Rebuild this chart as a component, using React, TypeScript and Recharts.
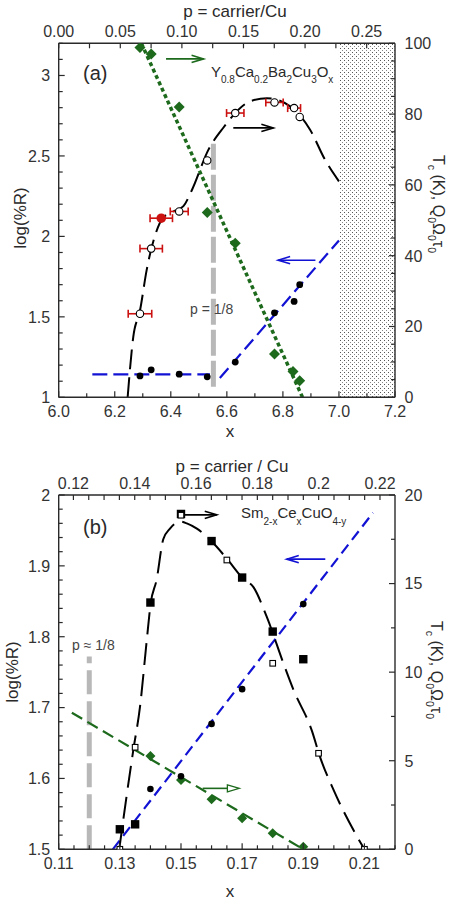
import React from "react";
import {
  ComposedChart,
  ErrorBar,
  Line,
  ReferenceArea,
  ReferenceLine,
  Scatter,
  XAxis,
  YAxis,
} from "recharts";

const FONT = '"Liberation Sans", Arial, Helvetica, sans-serif';
const GREEN = "#1d6a1d";
const BLUE = "#1212d4";
const RED = "#cc1111";
const GRAY = "#b8b8b8";
const INK = "#2a2a2a";

// ---------- panel (a): Y0.8Ca0.2Ba2Cu3Ox ----------
const aDotX = [6.29, 6.33, 6.43, 6.53, 6.63, 6.77, 6.84, 6.86];
const aDotLogR = [1.133, 1.171, 1.144, 1.127, 1.219, 1.525, 1.596, 1.7];

const aTcX = [6.29, 6.33, 6.43, 6.53, 6.63, 6.77, 6.84, 6.86];
const aTc = [23.6, 42.0, 52.5, 66.9, 80.3, 83.3, 81.7, 79.2];
const aTcErr = [0.042, 0.04, 0.032, 0, 0.031, 0.031, 0.023, 0];

const aTcRedX = [6.366];
const aTcRed = [50.6];
const aTcRedErr = [0.04];

const aQX = [6.29, 6.33, 6.43, 6.53, 6.63, 6.77, 6.836, 6.86];
const aQ = [98.8, 97.0, 82.0, 52.2, 43.5, 12.2, 7.3, 4.7];

const aTcFitX = [6.246, 6.266, 6.29, 6.314, 6.345, 6.37, 6.41, 6.445, 6.475, 6.534, 6.586, 6.683, 6.743, 6.826, 6.897, 6.951, 7.0];
const aTcFit = [0, 17, 24.5, 36, 46, 50.5, 52.5, 54, 58.5, 69.9, 76, 83.6, 84.5, 82.2, 75.6, 67, 61];

const aQFitX = [6.295, 6.87];
const aQFit = [100, 0];

const aBlueFlatX = [6.12, 6.54];
const aBlueFlat = [1.143, 1.143];
const aBlueRiseX = [6.575, 7.0];
const aBlueRise = [1.12, 1.975];

const aEighthX = 6.552;
const aEighthY = [1.066, 2.59];

// arrows: [x tail, x head, y]
const aArrowGreen = [6.383, 6.517, 95.6];
const aArrowBlack = [6.623, 6.766, 76.1];
const aArrowBlue = [6.916, 6.783, 1.852];

// ---------- panel (b): Sm2-xCexCuO4-y ----------
const bSqX = [0.13, 0.135, 0.14, 0.15, 0.16, 0.17, 0.18, 0.19];
const bSqTc = [1.13, 1.41, 13.93, 18.93, 17.4, 15.34, 12.29, 10.73];

const bOpenX = [0.13, 0.135, 0.15, 0.165, 0.18, 0.195, 0.21];
const bOpenTc = [0, 5.76, 18.86, 16.33, 10.5, 5.42, 0];

const bDotX = [0.14, 0.15, 0.16, 0.17, 0.19];
const bDotLogR = [1.585, 1.603, 1.677, 1.726, 1.846];

const bQX = [0.14, 0.15, 0.16, 0.17, 0.18, 0.19];
const bQ = [5.27, 3.91, 2.82, 1.75, 0.9, 0.15];

const bTcFitX = [0.1298, 0.1322, 0.1344, 0.1366, 0.1388, 0.1401, 0.142, 0.1442, 0.1464, 0.1497, 0.1519, 0.1552, 0.1599, 0.1655, 0.1702, 0.1737, 0.1781, 0.1835, 0.1868, 0.1928, 0.1955, 0.1999, 0.207, 0.21];
const bTcFit = [0, 3, 5.6, 8.05, 11.8, 13.9, 15.2, 17.5, 18.1, 18.5, 18.4, 18.1, 17.4, 16.3, 15.3, 14.8, 13.1, 10.5, 9.0, 6.7, 5.2, 3.35, 0.9, 0];

const bBlueFitX = [0.1277, 0.2128];
const bBlueFit = [1.5, 1.975];

const bQFitX = [0.1143, 0.19];
const bQFit = [7.71, 0];

const bEighthX = 0.12;
const bEighthY = [1.5, 1.772];

const bArrowBlack = [0.1501, 0.1617, 18.88];
const bArrowBlue = [0.1972, 0.1846, 1.9095];
const bArrowGreen = [0.1571, 0.1691, 3.44];

// ---------- axes ----------
const aBottomMajor = [6.0, 6.2, 6.4, 6.6, 6.8, 7.0, 7.2];
const aTopMajor = [0, 0.05, 0.1, 0.15, 0.2, 0.25];
const aLeftMajor = [1, 1.5, 2, 2.5, 3];
const aRightMajor = [0, 20, 40, 60, 80, 100];

const bBottomMajor = [0.11, 0.13, 0.15, 0.17, 0.19, 0.21];
const bTopMajor = [0.12, 0.14, 0.16, 0.18, 0.2, 0.22];
const bLeftMajor = [1.5, 1.6, 1.7, 1.8, 1.9, 2];
const bRightMajor = [0, 5, 10, 15, 20];

const steps = (start: number, end: number, step: number) =>
  Array.from({ length: Math.round((end - start) / step) + 1 }, (_, i) => +(start + i * step).toFixed(6));

const pts = (xs: number[], ys: number[], es?: number[]) =>
  xs.map((x, i) => ({ x, y: ys[i], ex: es ? es[i] : 0 }));

// invisible anchors so the top (p) axis has something bound to it
const anchors = (xs: number[], y: number) => xs.map((x) => ({ x, y }));

type Side = "bottom" | "top" | "left" | "right";

function makeTick(side: Side, majors: number[], fmt: (v: number) => string, majorLen = 6, minorLen = 4) {
  return (props: any) => {
    const { x, y, payload } = props;
    const v = payload.value;
    const isMajor = majors.some((m) => Math.abs(m - v) < 1e-7);
    const len = isMajor ? majorLen : minorLen;
    const ls = { stroke: INK, strokeWidth: 1.2 };
    const ts = { fontFamily: FONT, fontSize: 16, fill: "#333" };
    if (side === "bottom")
      return (
        <g>
          <line x1={x} y1={y} x2={x} y2={y - len} {...ls} />
          {isMajor && <text x={x} y={y + 19.5} textAnchor="middle" {...ts}>{fmt(v)}</text>}
        </g>
      );
    if (side === "top")
      return (
        <g>
          <line x1={x} y1={y} x2={x} y2={y + len} {...ls} />
          {isMajor && <text x={x} y={y - 6.5} textAnchor="middle" {...ts}>{fmt(v)}</text>}
        </g>
      );
    if (side === "left")
      return (
        <g>
          <line x1={x} y1={y} x2={x + len} y2={y} {...ls} />
          {isMajor && <text x={x - 8.5} y={y + 5.8} textAnchor="end" {...ts}>{fmt(v)}</text>}
        </g>
      );
    return (
      <g>
        <line x1={x} y1={y} x2={x - len} y2={y} {...ls} />
        {isMajor && <text x={x + 9.5} y={y + 5.8} textAnchor="start" {...ts}>{fmt(v)}</text>}
      </g>
    );
  };
}

const circle = (r: number, fill: string, stroke: string, sw: number) => (p: any) =>
  <circle cx={p.cx} cy={p.cy} r={r} fill={fill} stroke={stroke} strokeWidth={sw} />;

const diamond = (s: number, fill: string) => (p: any) =>
  <polygon points={`${p.cx},${p.cy - s} ${p.cx + s},${p.cy} ${p.cx},${p.cy + s} ${p.cx - s},${p.cy}`} fill={fill} />;

const square = (s: number, fill: string, stroke: string, sw: number) => (p: any) =>
  <rect x={p.cx - s} y={p.cy - s} width={2 * s} height={2 * s} fill={fill} stroke={stroke} strokeWidth={sw} />;

const nothing = () => <g />;

function arrow(color: string, hollow = false) {
  return (props: any) => {
    const { x1, y1, x2, y2 } = props;
    const dir = Math.sign(x2 - x1) || 1;
    const hl = 12;
    const hw = 3.6;
    return (
      <g>
        <line x1={x1} y1={y1} x2={hollow ? x2 - dir * hl : x2} y2={y2} stroke={color} strokeWidth={1.6} />
        {hollow ? (
          <polygon
            points={`${x2},${y2} ${x2 - dir * hl},${y2 - hw} ${x2 - dir * hl},${y2 + hw}`}
            fill="none"
            stroke={color}
            strokeWidth={1.3}
          />
        ) : (
          <polyline
            points={`${x2 - dir * hl},${y2 - hw} ${x2},${y2} ${x2 - dir * hl},${y2 + hw}`}
            fill="none"
            stroke={color}
            strokeWidth={1.6}
          />
        )}
      </g>
    );
  };
}

const axisLine = { stroke: INK, strokeWidth: 1.4 };

function PanelA() {
  return (
    <ComposedChart width={450} height={450} margin={{ top: 13.3, right: 5, bottom: 22.7, left: 8.7 }}>
      <XAxis
        xAxisId="x"
        dataKey="x"
        type="number"
        domain={[6.0, 7.2]}
        allowDataOverflow
        ticks={steps(6.0, 7.2, 0.1)}
        interval={0}
        tickSize={0}
        tickMargin={0}
        tickLine={false}
        axisLine={axisLine}
        height={30}
        tick={makeTick("bottom", aBottomMajor, (v) => v.toFixed(1))}
      />
      <XAxis
        xAxisId="p"
        dataKey="x"
        orientation="top"
        type="number"
        domain={[0, 0.273]}
        allowDataOverflow
        ticks={steps(0, 0.25, 0.025)}
        interval={0}
        tickSize={0}
        tickMargin={0}
        tickLine={false}
        axisLine={axisLine}
        height={30}
        tick={makeTick("top", aTopMajor, (v) => v.toFixed(2), 5, 5)}
      />
      <YAxis
        yAxisId="L"
        dataKey="y"
        type="number"
        domain={[1, 3.2]}
        allowDataOverflow
        ticks={steps(1, 3.2, 0.1)}
        interval={0}
        tickSize={0}
        tickMargin={0}
        tickLine={false}
        axisLine={axisLine}
        width={50}
        tick={makeTick("left", aLeftMajor, (v) => String(v))}
      />
      <YAxis
        yAxisId="R"
        orientation="right"
        dataKey="y"
        type="number"
        domain={[0, 100]}
        allowDataOverflow
        ticks={steps(0, 100, 5)}
        interval={0}
        tickSize={0}
        tickMargin={0}
        tickLine={false}
        axisLine={axisLine}
        width={50}
        tick={makeTick("right", aRightMajor, (v) => String(v))}
      />

      <ReferenceArea
        xAxisId="x"
        yAxisId="L"
        x1={7.0}
        x2={7.2}
        y1={1}
        y2={3.2}
        fill="url(#stipple)"
        fillOpacity={1}
        strokeOpacity={0}
      />
      <ReferenceLine
        xAxisId="x"
        yAxisId="L"
        segment={[
          { x: aEighthX, y: aEighthY[0] },
          { x: aEighthX, y: aEighthY[1] },
        ]}
        stroke={GRAY}
        strokeWidth={5}
        strokeDasharray="26 5"
      />

      <Scatter xAxisId="p" yAxisId="L" data={anchors(aTopMajor, 2)} dataKey="y" shape={nothing} isAnimationActive={false} />

      <Line xAxisId="x" yAxisId="R" data={pts(aQFitX, aQFit)} dataKey="y" type="linear" stroke={GREEN} strokeWidth={3.5} strokeDasharray="4 3" dot={false} activeDot={false} isAnimationActive={false} />
      <Line xAxisId="x" yAxisId="L" data={pts(aBlueFlatX, aBlueFlat)} dataKey="y" type="linear" stroke={BLUE} strokeWidth={2.2} strokeDasharray="15 6" dot={false} activeDot={false} isAnimationActive={false} />
      <Line xAxisId="x" yAxisId="L" data={pts(aBlueRiseX, aBlueRise)} dataKey="y" type="linear" stroke={BLUE} strokeWidth={2.2} strokeDasharray="13 6" dot={false} activeDot={false} isAnimationActive={false} />
      <Line xAxisId="x" yAxisId="R" data={pts(aTcFitX, aTcFit)} dataKey="y" type="monotone" stroke="#000" strokeWidth={2} strokeDasharray="20 8" dot={false} activeDot={false} isAnimationActive={false} />

      <Scatter xAxisId="x" yAxisId="R" data={pts(aQX, aQ)} dataKey="y" shape={diamond(5.5, GREEN)} isAnimationActive={false} />
      <Scatter xAxisId="x" yAxisId="L" data={pts(aDotX, aDotLogR)} dataKey="y" shape={circle(3.4, "#000", "#000", 0)} isAnimationActive={false} />
      <Scatter xAxisId="x" yAxisId="R" data={pts(aTcX, aTc, aTcErr)} dataKey="y" shape={circle(3.7, "#fff", "#000", 1.1)} isAnimationActive={false}>
        <ErrorBar dataKey="ex" direction="x" width={4} stroke={RED} strokeWidth={1.6} />
      </Scatter>
      <Scatter xAxisId="x" yAxisId="R" data={pts(aTcRedX, aTcRed, aTcRedErr)} dataKey="y" shape={circle(4.8, RED, RED, 0)} isAnimationActive={false}>
        <ErrorBar dataKey="ex" direction="x" width={4} stroke={RED} strokeWidth={1.6} />
      </Scatter>

      <ReferenceLine xAxisId="x" yAxisId="R" segment={[{ x: aArrowGreen[0], y: aArrowGreen[2] }, { x: aArrowGreen[1], y: aArrowGreen[2] }]} shape={arrow(GREEN)} />
      <ReferenceLine xAxisId="x" yAxisId="R" segment={[{ x: aArrowBlack[0], y: aArrowBlack[2] }, { x: aArrowBlack[1], y: aArrowBlack[2] }]} shape={arrow("#000")} />
      <ReferenceLine xAxisId="x" yAxisId="L" segment={[{ x: aArrowBlue[0], y: aArrowBlue[2] }, { x: aArrowBlue[1], y: aArrowBlue[2] }]} shape={arrow(BLUE)} />
    </ComposedChart>
  );
}

function PanelB() {
  return (
    <ComposedChart width={450} height={454} margin={{ top: 15, right: 5, bottom: 24.7, left: 8.7 }}>
      <XAxis
        xAxisId="x"
        dataKey="x"
        type="number"
        domain={[0.11, 0.22]}
        allowDataOverflow
        ticks={steps(0.11, 0.22, 0.005)}
        interval={0}
        tickSize={0}
        tickMargin={0}
        tickLine={false}
        axisLine={axisLine}
        height={30}
        tick={makeTick("bottom", bBottomMajor, (v) => v.toFixed(2))}
      />
      <XAxis
        xAxisId="p"
        dataKey="x"
        orientation="top"
        type="number"
        domain={[0.1152, 0.2249]}
        allowDataOverflow
        ticks={steps(0.12, 0.22, 0.005)}
        interval={0}
        tickSize={0}
        tickMargin={0}
        tickLine={false}
        axisLine={axisLine}
        height={30}
        tick={makeTick("top", bTopMajor, (v) => String(v), 5, 5)}
      />
      <YAxis
        yAxisId="L"
        dataKey="y"
        type="number"
        domain={[1.5, 2]}
        allowDataOverflow
        ticks={steps(1.5, 2, 0.02)}
        interval={0}
        tickSize={0}
        tickMargin={0}
        tickLine={false}
        axisLine={axisLine}
        width={50}
        tick={makeTick("left", bLeftMajor, (v) => String(v))}
      />
      <YAxis
        yAxisId="R"
        orientation="right"
        dataKey="y"
        type="number"
        domain={[0, 20]}
        allowDataOverflow
        ticks={steps(0, 20, 2.5)}
        interval={0}
        tickSize={0}
        tickMargin={0}
        tickLine={false}
        axisLine={axisLine}
        width={50}
        tick={makeTick("right", bRightMajor, (v) => String(v))}
      />

      <ReferenceLine
        xAxisId="x"
        yAxisId="L"
        segment={[
          { x: bEighthX, y: bEighthY[0] },
          { x: bEighthX, y: bEighthY[1] },
        ]}
        stroke={GRAY}
        strokeWidth={5}
        strokeDasharray="24 7"
      />

      <Scatter xAxisId="p" yAxisId="L" data={anchors(bTopMajor, 1.7)} dataKey="y" shape={nothing} isAnimationActive={false} />

      <Line xAxisId="x" yAxisId="R" data={pts(bQFitX, bQFit)} dataKey="y" type="linear" stroke={GREEN} strokeWidth={2.2} strokeDasharray="12 6" dot={false} activeDot={false} isAnimationActive={false} />
      <Line xAxisId="x" yAxisId="L" data={pts(bBlueFitX, bBlueFit)} dataKey="y" type="linear" stroke={BLUE} strokeWidth={2.2} strokeDasharray="11 6" dot={false} activeDot={false} isAnimationActive={false} />
      <Line xAxisId="x" yAxisId="R" data={pts(bTcFitX, bTcFit)} dataKey="y" type="monotone" stroke="#000" strokeWidth={2} strokeDasharray="22 9" dot={false} activeDot={false} isAnimationActive={false} />

      <Scatter xAxisId="x" yAxisId="R" data={pts(bQX, bQ)} dataKey="y" shape={diamond(5, GREEN)} isAnimationActive={false} />
      <Scatter xAxisId="x" yAxisId="L" data={pts(bDotX, bDotLogR)} dataKey="y" shape={circle(3.3, "#000", "#000", 0)} isAnimationActive={false} />
      <Scatter xAxisId="x" yAxisId="R" data={pts(bSqX, bSqTc)} dataKey="y" shape={square(4.2, "#000", "#000", 0)} isAnimationActive={false} />
      <Scatter xAxisId="x" yAxisId="R" data={pts(bOpenX, bOpenTc)} dataKey="y" shape={square(2.8, "#fff", "#000", 1.1)} isAnimationActive={false} />

      <ReferenceLine xAxisId="x" yAxisId="R" segment={[{ x: bArrowBlack[0], y: bArrowBlack[2] }, { x: bArrowBlack[1], y: bArrowBlack[2] }]} shape={arrow("#000")} />
      <ReferenceLine xAxisId="x" yAxisId="L" segment={[{ x: bArrowBlue[0], y: bArrowBlue[2] }, { x: bArrowBlue[1], y: bArrowBlue[2] }]} shape={arrow(BLUE)} />
      <ReferenceLine xAxisId="x" yAxisId="R" segment={[{ x: bArrowGreen[0], y: bArrowGreen[2] }, { x: bArrowGreen[1], y: bArrowGreen[2] }]} shape={arrow(GREEN, true)} />
    </ComposedChart>
  );
}

function RightTitle({ x, y }: { x: number; y: number }) {
  return (
    <text transform={`translate(${x},${y}) rotate(90)`} textAnchor="middle" fontFamily={FONT} fontSize={16} fill={INK}>
      T<tspan dy={5} fontSize={10.5}>c</tspan>
      <tspan dy={-5}> (K), Q</tspan>
      <tspan dy={5} fontSize={10.5}>0</tspan>
      <tspan dy={-5}>Ω</tspan>
      <tspan dy={5} fontSize={10.5}>0</tspan>
      <tspan dy={-5}>τ</tspan>
      <tspan dy={5} fontSize={10.5}>0</tspan>
    </text>
  );
}

function Labels() {
  const t = { fontFamily: FONT, fill: INK };
  return (
    <svg width={450} height={904} style={{ position: "absolute", left: 0, top: 0, pointerEvents: "none" }}>
      {/* panel (a) */}
      <text x={235} y={17} textAnchor="middle" fontSize={17} {...t}>p = carrier/Cu</text>
      <text x={230} y={437} textAnchor="middle" fontSize={17} {...t}>x</text>
      <text transform="translate(26,218) rotate(-90)" textAnchor="middle" fontSize={17} {...t}>log(%R)</text>
      <RightTitle x={433} y={204} />
      <text x={83} y={80} fontSize={20} {...t}>(a)</text>
      <text x={211} y={77} fontSize={15} {...t}>
        Y<tspan dy={6} fontSize={10}>0.8</tspan>
        <tspan dy={-6}>Ca</tspan>
        <tspan dy={6} fontSize={10}>0.2</tspan>
        <tspan dy={-6}>Ba</tspan>
        <tspan dy={6} fontSize={10}>2</tspan>
        <tspan dy={-6}>Cu</tspan>
        <tspan dy={6} fontSize={10}>3</tspan>
        <tspan dy={-6}>O</tspan>
        <tspan dy={6} fontSize={10}>x</tspan>
      </text>
      <text x={190} y={314} fontSize={14} fontFamily={FONT} fill="#444">p = 1/8</text>

      {/* panel (b) */}
      <text x={232} y={472} textAnchor="middle" fontSize={17} {...t}>p = carrier / Cu</text>
      <text x={230} y={897} textAnchor="middle" fontSize={17} {...t}>x</text>
      <text transform="translate(18,672) rotate(-90)" textAnchor="middle" fontSize={17} {...t}>log(%R)</text>
      <RightTitle x={431} y={670} />
      <text x={83} y={534} fontSize={20} {...t}>(b)</text>
      <text x={241} y={518} fontSize={15} {...t}>
        Sm<tspan dy={7} fontSize={10}>2-x</tspan>
        <tspan dy={-7}>Ce</tspan>
        <tspan dy={7} fontSize={10}>x</tspan>
        <tspan dy={-7}>CuO</tspan>
        <tspan dy={7} fontSize={10}>4-y</tspan>
      </text>
      <text x={72} y={650} fontSize={14} fontFamily={FONT} fill="#444">p ≈ 1/8</text>
    </svg>
  );
}

export default function App() {
  return (
    <div style={{ position: "absolute", left: 0, top: 0, width: 450, height: 904, background: "#fff", overflow: "hidden" }}>
      <svg width={0} height={0} style={{ position: "absolute" }}>
        <defs>
          <pattern id="stipple" width={4} height={4} patternUnits="userSpaceOnUse">
            <rect width={4} height={4} fill="#fff" />
            <rect x={0} y={0} width={1} height={1} fill="#555" />
            <rect x={2} y={2} width={1} height={1} fill="#888" />
          </pattern>
        </defs>
      </svg>
      <div style={{ position: "absolute", left: 0, top: 0 }}>
        <PanelA />
      </div>
      <div style={{ position: "absolute", left: 0, top: 450 }}>
        <PanelB />
      </div>
      <Labels />
    </div>
  );
}
